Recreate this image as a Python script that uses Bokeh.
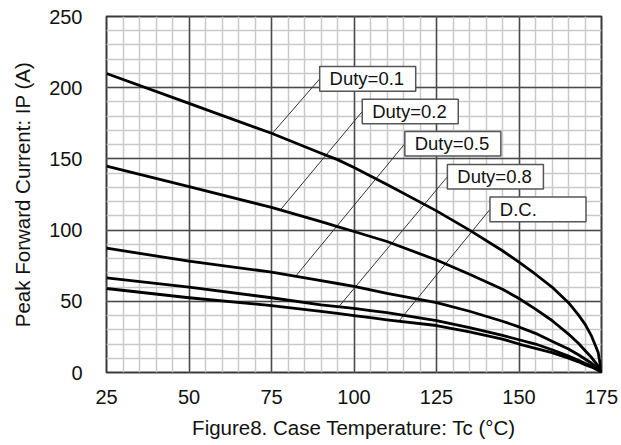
import numpy as np
from bokeh.plotting import figure
from bokeh.models import Range1d, FixedTicker, Grid, ColumnDataSource
from bokeh.embed import file_html
from bokeh.resources import INLINE
from bokeh.core.properties import value

# ---------------- data ----------------
temps = [25, 50, 75, 90, 95, 100, 105, 110, 125, 135, 145, 150, 155, 160, 165, 168, 170, 172, 174, 175]
duty_01 = [210, 189, 168, 154, 149.5, 144, 138, 132, 113.5, 100, 85.5, 77.5, 69, 60, 49, 40.5, 34, 25.5, 14, 0]
duty_02 = [145, 130.5, 116, 106, 102.5, 99, 95.5, 92, 79, 69, 58.5, 52, 44.5, 36.5, 27, 20.5, 15.5, 10.5, 4.5, 0]
duty_05 = [87.3, 78.2, 70.5, 64.5, 62.5, 60.5, 58, 55.5, 49, 43, 36, 32, 27.5, 22, 16.5, 12.5, 9.5, 6.5, 2.5, 0]
duty_08 = [66.5, 60, 52.5, 47.5, 46.3, 45, 43.5, 42, 36.5, 31.5, 26, 23, 20, 16, 11.5, 8.5, 6.5, 4.5, 1.8, 0]
duty_dc = [59, 52.5, 47, 43, 41.5, 40, 38.5, 37, 33, 28.5, 23.5, 20, 17, 14, 10, 7.5, 5.5, 3.8, 1.5, 0]

series = [duty_01, duty_02, duty_05, duty_08, duty_dc]
series_labels = ["Duty=0.1", "Duty=0.2", "Duty=0.5", "Duty=0.8", "D.C."]

x_ticks = [25, 50, 75, 100, 125, 150, 175]
y_ticks = [0, 50, 100, 150, 200, 250]
x_minor = list(range(25, 176, 5))
y_minor = list(range(0, 251, 10))

x_title = "Figure8. Case Temperature: Tc (°C)"
y_title = "Peak Forward Current: IP (A)"

# ---------------- layout constants (annotation placement) ----------------
leader_temps = [75.2, 77.7, 82.3, 95.4, 113.6]
box_left = [89.6, 102.5, 115.4, 128.3, 141.2]
box_bottom = [197.5, 174.6, 152.0, 128.8, 105.9]
BOX_W = 29.1
BOX_H = 17.3
TEXT_PAD = 3.0

FONT = "Liberation Sans"

p = figure(width=621, height=445, output_backend="svg", toolbar_location=None,
           x_range=Range1d(25, 175), y_range=Range1d(0, 250),
           min_border_left=106, min_border_right=20,
           min_border_top=16, min_border_bottom=73)
p.background_fill_color = "white"
p.border_fill_color = "white"
p.outline_line_color = "#3a3a3a"
p.outline_line_width = 2

# minor grid (default grids), then major grids on top
p.xgrid.ticker = FixedTicker(ticks=x_minor)
p.ygrid.ticker = FixedTicker(ticks=y_minor)
for g in (p.xgrid[0], p.ygrid[0]):
    g.grid_line_color = "#c9c9c9"
    g.grid_line_width = 1.5
p.add_layout(Grid(dimension=0, ticker=FixedTicker(ticks=x_ticks),
                  grid_line_color="#4a4a4a", grid_line_width=1.5), "center")
p.add_layout(Grid(dimension=1, ticker=FixedTicker(ticks=y_ticks),
                  grid_line_color="#4a4a4a", grid_line_width=1.5), "center")

# axes
p.xaxis.ticker = FixedTicker(ticks=x_ticks)
p.yaxis.ticker = FixedTicker(ticks=y_ticks)
for ax in (p.xaxis[0], p.yaxis[0]):
    ax.axis_line_color = None
    ax.major_tick_line_color = None
    ax.minor_tick_line_color = None
    ax.major_label_text_font = FONT
    ax.major_label_text_font_size = "20px"
    ax.major_label_text_color = "#111111"
    ax.axis_label_text_font = FONT
    ax.axis_label_text_font_size = "20.5px"
    ax.axis_label_text_font_style = "normal"
    ax.axis_label_text_color = "#111111"
p.xaxis.major_label_standoff = 11
p.yaxis.major_label_standoff = 18
p.xaxis.axis_label = x_title
p.yaxis.axis_label = y_title
p.xaxis.axis_label_standoff = 9
p.yaxis.axis_label_standoff = 12

# leader lines
leader_vals = [float(np.interp(t, temps, s)) for t, s in zip(leader_temps, series)]
box_mid = [b + BOX_H / 2 for b in box_bottom]
p.segment(x0=leader_temps, y0=leader_vals, x1=box_left, y1=box_mid,
          line_color="#333333", line_width=1)

# curves
for s in series:
    p.line(temps, s, line_color="black", line_width=2.8, line_join="round")

# label boxes
box_src = ColumnDataSource(dict(
    left=box_left,
    right=[b + BOX_W for b in box_left],
    bottom=box_bottom,
    top=[b + BOX_H for b in box_bottom],
    tx=[b + TEXT_PAD for b in box_left],
    ty=box_mid,
    text=series_labels,
))
p.quad(left="left", right="right", bottom="bottom", top="top", source=box_src,
       fill_color="white", line_color="#555555", line_width=1.5)
p.text(x="tx", y="ty", text="text", source=box_src,
       text_font=value(FONT), text_font_size="18.5px", text_color="#111111",
       text_baseline="middle", text_align="left")

open("out.html", "w").write(file_html(p, INLINE))
